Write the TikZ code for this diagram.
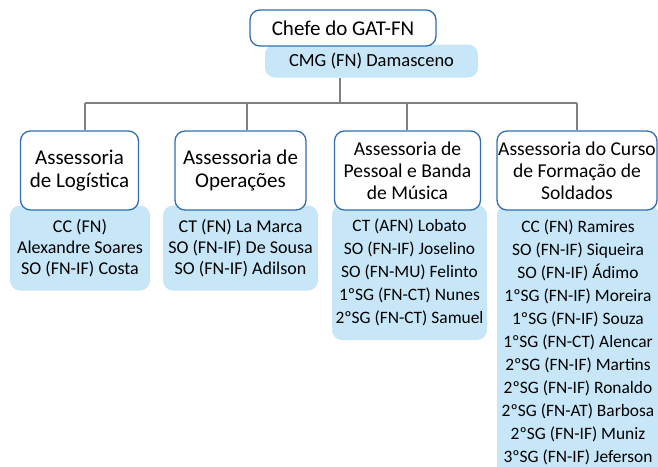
\documentclass[tikz,border=0pt]{standalone}
\usepackage{fontspec}
\setmainfont{Carlito}
\definecolor{hdblue}{HTML}{2F6EB5}
\definecolor{ltblue}{HTML}{C7E6F7}
\definecolor{lngray}{HTML}{808080}
\begin{document}
\begin{tikzpicture}[x=1pt,y=-1pt,
  head/.style={draw=hdblue, line width=1.3pt, fill=white, rounded corners=10pt, align=center, inner sep=0pt, font=\fontsize{21}{23}\selectfont},
  headsm/.style={head, font=\fontsize{19.6}{22}\selectfont},
  staff/.style={fill=ltblue, rounded corners=10pt, align=center, inner sep=0pt},
  wire/.style={draw=lngray, line width=1.1pt}]
\useasboundingbox (0,0) rectangle (658,466);
% staff boxes (behind)
\node[staff, minimum width=213pt, minimum height=33pt, font=\fontsize{18.5}{22}\selectfont] (cmg) at (371.5,61) {CMG (FN) Damasceno};
\node[staff, minimum width=140pt, minimum height=85pt, font=\fontsize{18}{21}\selectfont] (s1) at (80,248) {CC (FN)\\Alexandre Soares\\SO (FN-IF) Costa};
\node[staff, minimum width=155pt, minimum height=85pt, font=\fontsize{18}{21}\selectfont] (s2) at (240.5,248) {CT (FN) La Marca\\SO (FN-IF) De Sousa\\SO (FN-IF) Adilson};
\node[staff, minimum width=155pt, minimum height=135pt, font=\fontsize{17.4}{23}\selectfont] (s3) at (409.5,272.5) {CT (AFN) Lobato\\SO (FN-IF) Joselino\\SO (FN-MU) Felinto\\1ºSG (FN-CT) Nunes\\2ºSG (FN-CT) Samuel};
\node[staff, minimum width=162pt, minimum height=275pt, font=\fontsize{17.4}{23}\selectfont] (s4) at (578,342.5) {CC (FN) Ramires\\SO (FN-IF) Siqueira\\SO (FN-IF) Ádimo\\1ºSG (FN-IF) Moreira\\1ºSG (FN-IF) Souza\\1ºSG (FN-CT) Alencar\\2ºSG (FN-IF) Martins\\2ºSG (FN-IF) Ronaldo\\2ºSG (FN-AT) Barbosa\\2ºSG (FN-IF) Muniz\\3ºSG (FN-IF) Jeferson};
% heads
\node[head, minimum width=186pt, minimum height=36pt] (chefe) at (343,28) {Chefe do GAT-FN};
\node[head, minimum width=118pt, minimum height=79pt] (h1) at (79.5,170.5) {Assessoria\\de Logística};
\node[head, minimum width=131pt, minimum height=79pt] (h2) at (240.5,170.5) {Assessoria de\\Operações};
\node[headsm, minimum width=146pt, minimum height=79pt] (h3) at (407.5,170.5) {Assessoria de\\Pessoal e Banda\\de Música};
\node[headsm, minimum width=160pt, minimum height=79pt] (h4) at (577,170.5) {Assessoria do Curso\\de Formação de\\Soldados};
% connectors
\coordinate (top) at (340,77.5);
\coordinate (bus) at (340,103);
\coordinate (b1) at (85,103);
\coordinate (b2) at (247,103);
\coordinate (b3) at (407,103);
\coordinate (b4) at (577,103);
\draw[wire] (top) -- (bus);
\draw[wire] (b1) -- (b4);
\draw[wire] (b1) -- (b1 |- h1.north);
\draw[wire] (b2) -- (b2 |- h2.north);
\draw[wire] (b3) -- (b3 |- h3.north);
\draw[wire] (b4) -- (b4 |- h4.north);
\end{tikzpicture}
\end{document}
